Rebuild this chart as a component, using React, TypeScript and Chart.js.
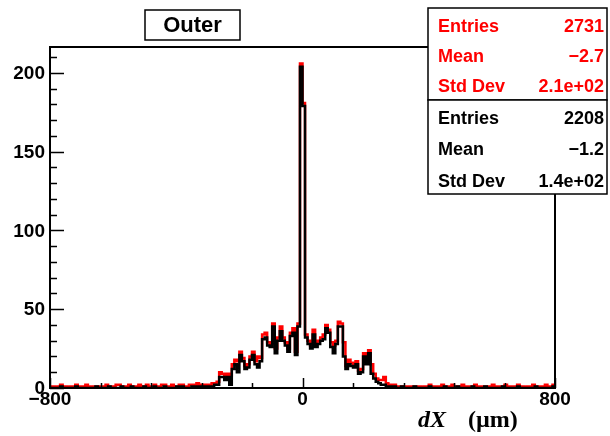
import React, { useEffect, useRef } from "react";
import { Chart, registerables } from "chart.js";

Chart.register(...registerables);

// Histogram binning: 200 bins of 8 µm from -800 to 800
const xLow = -800;
const xHigh = 800;
const binWidth = 8;
const yMax = 216.5;

// Bin contents, "Outer" sample with all hits (red)
const redLeftTail = [
  1, 1, 0, 1, 2, 1, 1, 0, 1, 1, 2,
  1, 1, 1, 2, 1, 0, 1, 1, 0, 1, 1,
  2, 1, 1, 1, 2, 2, 1, 1, 1, 2, 1,
  1, 1, 2, 1, 1, 2, 1, 1, 2, 1, 1,
  2, 2, 1, 1, 2, 1, 1, 2, 2, 1, 1,
  2, 2, 2, 3, 2, 1, 2, 2, 2, 3, 3,
];
const redCore = [
  4, 10, 9, 8, 9, 8, 15, 18, 17, 23,
  19, 14, 15, 20, 23, 17, 20, 19, 34, 35,
  29, 28, 41, 25, 32, 39, 32, 29, 25, 35,
  38, 23, 41, 206, 181, 34, 30, 27, 37, 28,
  30, 32, 34, 40, 37, 29, 27, 30, 42, 41,
  29, 14, 18, 16, 15, 17, 11, 12, 22, 17,
  24, 15, 9, 6, 5, 5, 7, 3,
];
const redRightTail = [
  2, 1, 2, 1, 1, 1, 1, 0, 1, 1, 1,
  1, 1, 0, 1, 1, 2, 1, 1, 1, 1, 2,
  1, 1, 1, 2, 1, 1, 1, 2, 1, 1, 1,
  1, 2, 1, 1, 0, 1, 1, 1, 2, 1, 1,
  1, 1, 2, 1, 1, 1, 1, 2, 1, 1, 0,
  1, 1, 2, 1, 1, 1, 1, 2, 1, 1, 2,
];

// Bin contents, selected subsample (black)
const blackLeftTail = [
  0, 0, 0, 0, 1, 0, 0, 0, 0, 0, 1,
  0, 0, 0, 0, 0, 0, 0, 1, 0, 0, 0,
  0, 1, 0, 0, 0, 0, 1, 0, 0, 0, 1,
  0, 0, 0, 0, 1, 0, 0, 0, 1, 0, 0,
  0, 1, 0, 0, 0, 0, 1, 0, 1, 0, 0,
  0, 1, 0, 1, 1, 0, 1, 1, 1, 1, 2,
];
const blackCore = [
  2, 7, 7, 5, 7, 2, 12, 15, 10, 21,
  17, 12, 13, 18, 21, 15, 13, 17, 31, 32,
  27, 26, 39, 22, 30, 36, 30, 27, 23, 33,
  35, 21, 39, 204, 179, 32, 28, 25, 34, 26,
  28, 30, 31, 38, 35, 26, 22, 28, 39, 39,
  20, 12, 15, 14, 13, 15, 9, 10, 20, 15,
  22, 9, 6, 4, 3, 2, 2, 1,
];
const blackRightTail = [
  1, 1, 1, 0, 0, 1, 0, 0, 0, 0, 1,
  0, 0, 0, 0, 0, 1, 0, 0, 0, 0, 0,
  1, 0, 0, 0, 0, 1, 0, 0, 0, 0, 0,
  1, 0, 0, 0, 0, 1, 0, 0, 0, 0, 0,
  0, 1, 0, 0, 0, 0, 0, 1, 0, 0, 0,
  0, 0, 0, 1, 0, 0, 0, 0, 0, 0, 1,
];

// Axis ticks
const xMajorTicks = [-800, 0, 800];
const xMinorStep = 160;
const yMajorTicks = [0, 50, 100, 150, 200];
const yMinorStep = 10;

// Title and statistics boxes
const titleText = "Outer";
const statLabels = ["Entries", "Mean", "Std Dev"];
const redStats = ["2731", "\u22122.7", "2.1e+02"];
const blackStats = ["2208", "\u22121.2", "1.4e+02"];

const RED = "#ff0000";
const BLACK = "#000000";
const SANS = "'Liberation Sans', Arial, Helvetica, sans-serif";
const SERIF = "'Liberation Serif', 'Times New Roman', serif";

function toSteps(counts: number[]) {
  const pts = counts.map((c, i) => ({ x: xLow + i * binWidth, y: c }));
  pts.push({ x: xHigh, y: counts[counts.length - 1] });
  return pts;
}

const rootStyle = {
  id: "rootStyle",
  afterDraw(chart: any) {
    const { ctx, chartArea: a, scales } = chart;
    const xs = scales.x;
    const ys = scales.y;
    ctx.save();

    // frame
    ctx.strokeStyle = BLACK;
    ctx.lineWidth = 2;
    ctx.strokeRect(a.left, a.top, a.right - a.left, a.bottom - a.top);

    // y ticks (inward)
    ctx.lineWidth = 1.5;
    ctx.beginPath();
    for (let v = 0; v <= yMax; v += yMinorStep) {
      const py = Math.round(ys.getPixelForValue(v)) + 0.5;
      const len = yMajorTicks.includes(v) ? 14 : 7;
      ctx.moveTo(a.left, py);
      ctx.lineTo(a.left + len, py);
    }
    // x ticks (inward)
    for (let v = xLow; v <= xHigh; v += xMinorStep) {
      const px = Math.round(xs.getPixelForValue(v)) + 0.5;
      const len = xMajorTicks.includes(v) ? 10 : 5;
      ctx.moveTo(px, a.bottom);
      ctx.lineTo(px, a.bottom - len);
    }
    ctx.stroke();

    // tick labels
    ctx.fillStyle = BLACK;
    ctx.font = `bold 19px ${SANS}`;
    ctx.textAlign = "right";
    ctx.textBaseline = "middle";
    for (const v of yMajorTicks) {
      ctx.fillText(String(v), a.left - 5, ys.getPixelForValue(v) + 1);
    }
    ctx.textAlign = "center";
    ctx.textBaseline = "alphabetic";
    for (const v of xMajorTicks) {
      const label = v < 0 ? "\u2212" + Math.abs(v) : String(v);
      ctx.fillText(label, xs.getPixelForValue(v), a.bottom + 17);
    }

    // x-axis title
    ctx.textAlign = "left";
    ctx.font = `italic bold 24px ${SERIF}`;
    ctx.fillText("dX", 418, 427);
    ctx.font = `bold 24px ${SERIF}`;
    ctx.fillText("(\u00b5m)", 468, 427);

    // title box
    ctx.fillStyle = "#ffffff";
    ctx.fillRect(145, 10, 95, 30);
    ctx.lineWidth = 1.5;
    ctx.strokeStyle = BLACK;
    ctx.strokeRect(145, 10, 95, 30);
    ctx.fillStyle = BLACK;
    ctx.font = `bold 22px ${SANS}`;
    ctx.textAlign = "center";
    ctx.textBaseline = "middle";
    ctx.fillText(titleText, 192.5, 26);

    // statistics boxes
    const boxL = 428;
    const boxR = 607;
    const drawStats = (top: number, bottom: number, values: string[], color: string, baselines: number[]) => {
      ctx.fillStyle = "#ffffff";
      ctx.fillRect(boxL, top, boxR - boxL, bottom - top);
      ctx.strokeStyle = BLACK;
      ctx.lineWidth = 1.5;
      ctx.strokeRect(boxL, top, boxR - boxL, bottom - top);
      ctx.fillStyle = color;
      ctx.font = `bold 18px ${SANS}`;
      ctx.textBaseline = "alphabetic";
      statLabels.forEach((lab, i) => {
        ctx.textAlign = "left";
        ctx.fillText(lab, 438, baselines[i]);
        ctx.textAlign = "right";
        ctx.fillText(values[i], 604, baselines[i]);
      });
    };
    drawStats(8, 100, redStats, RED, [32, 62, 92]);
    drawStats(100, 194, blackStats, BLACK, [124, 155, 187]);

    ctx.restore();
  },
};

export default function App() {
  const canvasRef = useRef<HTMLCanvasElement | null>(null);

  useEffect(() => {
    const canvas = canvasRef.current;
    if (!canvas) return;
    const redCounts = [...redLeftTail, ...redCore, ...redRightTail];
    const blackCounts = [...blackLeftTail, ...blackCore, ...blackRightTail];

    const chart = new Chart(canvas, {
      type: "line",
      data: {
        datasets: [
          {
            label: "selected",
            data: toSteps(blackCounts),
            borderColor: BLACK,
            borderWidth: 2.5,
            stepped: "before",
            pointRadius: 0,
            fill: false,
            borderJoinStyle: "miter",
            borderCapStyle: "butt",
          },
          {
            label: "all",
            data: toSteps(redCounts),
            borderColor: RED,
            borderWidth: 2.5,
            stepped: "before",
            pointRadius: 0,
            fill: false,
            borderJoinStyle: "miter",
            borderCapStyle: "butt",
          },
        ],
      },
      options: {
        responsive: false,
        animation: false,
        devicePixelRatio: 1,
        parsing: false,
        layout: { padding: { left: 50, top: 47, right: 55, bottom: 48 } },
        scales: {
          x: { type: "linear", min: xLow, max: xHigh, display: false },
          y: { type: "linear", min: 0, max: yMax, display: false },
        },
        plugins: {
          legend: { display: false },
          tooltip: { enabled: false },
          title: { display: false },
        },
        events: [],
      },
      plugins: [rootStyle],
    } as any);

    return () => chart.destroy();
  }, []);

  return (
    <div style={{ position: "absolute", left: 0, top: 0, width: 610, height: 436, background: "#fff" }}>
      <canvas ref={canvasRef} width={610} height={436} style={{ width: 610, height: 436, display: "block" }} />
    </div>
  );
}
